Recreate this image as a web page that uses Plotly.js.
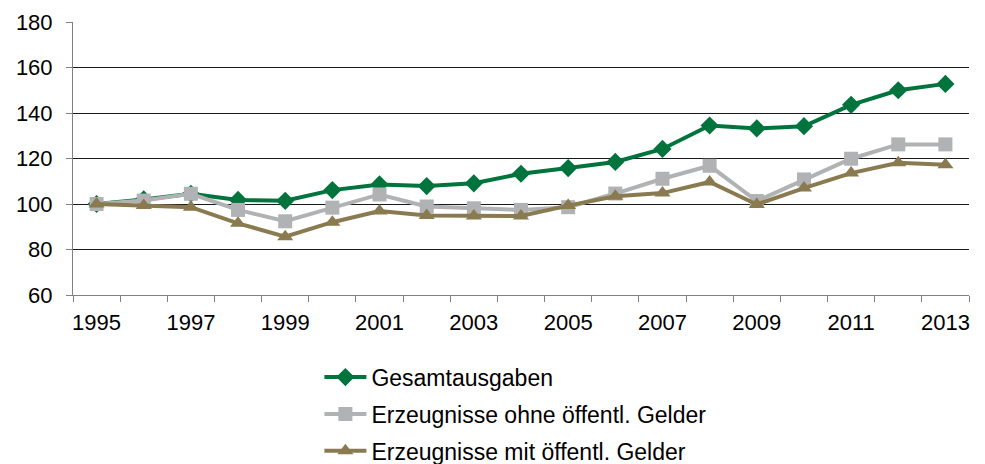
<!DOCTYPE html>
<html>
<head>
<meta charset="utf-8">
<script src="https://cdn.plot.ly/plotly-3.0.1.min.js"></script>
<style>html,body{margin:0;padding:0;background:#fff;}#chart{width:985px;height:464px;}</style>
</head>
<body>
<div id="chart"></div>
<script>
const years = [1995,1996,1997,1998,1999,2000,2001,2002,2003,2004,2005,2006,2007,2008,2009,2010,2011,2012,2013];
const tickYears = [1995,1997,1999,2001,2003,2005,2007,2009,2011,2013];
const seriesNames = ["Gesamtausgaben","Erzeugnisse ohne öffentl. Gelder","Erzeugnisse mit öffentl. Gelder"];
const gesamt = [100,102,104.5,101.8,101.4,106.1,108.6,107.9,109.1,113.3,115.8,118.5,124.2,134.5,133.2,134.2,143.6,150,152.8];
const ohne = [100,101.5,104.5,97.4,92.4,98.4,104.2,98.9,98.1,97.4,98.6,104.6,111.1,116.8,101.3,110.8,119.9,126.2,126.2];
const mit = [100,99.3,98.6,91.5,85.6,92,96.9,95,94.7,94.7,99.3,103.4,104.8,109.7,99.8,107,113.6,118.1,117.3];

const font = "Liberation Sans, Arial, sans-serif";
const traces = [
  {x: years, y: gesamt, name: seriesNames[0], mode: "lines+markers", legendgroup: "a",
   line: {color: "#00743C", width: 4}, marker: {symbol: "diamond", size: 14, color: "#00743C"}},
  {x: years, y: ohne, name: seriesNames[1], mode: "lines+markers", legendgroup: "b",
   line: {color: "#B1B2B4", width: 4}, marker: {symbol: "square", size: 14, color: "#B1B2B4"}},
  {x: years, y: mit, name: seriesNames[2], mode: "lines+markers", legendgroup: "c",
   line: {color: "#8A7A50", width: 4}, marker: {symbol: "triangle-up", size: 14, color: "#8A7A50"}}
];
const boundaries = years.map(y => y - 0.5).concat([years[years.length-1] + 0.5]);
const layout = {
  width: 985, height: 464,
  margin: {l: 73, r: 16, t: 22, b: 169, autoexpand: false},
  paper_bgcolor: "#fff", plot_bgcolor: "#fff",
  font: {family: font, size: 22, color: "#000"},
  showlegend: true,
  legend: {x: 0.275, xanchor: "left", y: -0.222, yanchor: "top", orientation: "v",
           font: {family: font, size: 23, color: "#000"}, bgcolor: "rgba(0,0,0,0)",
           tracegroupgap: 4, itemwidth: 42},
  xaxis: {
    range: [1994.5, 2013.5], tickmode: "array", tickvals: tickYears, ticktext: tickYears.map(String),
    ticks: "", showgrid: false, zeroline: false, showline: true, linecolor: "#808080", linewidth: 1,
    ticklabelstandoff: 8,
    tickfont: {family: font, size: 22, color: "#000"},
    minor: {tickmode: "array", tickvals: boundaries, ticks: "outside", ticklen: 6, tickcolor: "#808080", tickwidth: 1, showgrid: false}
  },
  yaxis: {
    range: [60, 180], tickmode: "linear", tick0: 60, dtick: 20,
    ticks: "outside", ticklen: 6, tickcolor: "#808080", tickwidth: 1,
    showgrid: true, gridcolor: "#1a1a1a", gridwidth: 1, zeroline: false,
    showline: true, linecolor: "#808080", linewidth: 1,
    ticklabelstandoff: 9,
    tickfont: {family: font, size: 22, color: "#000"}
  }
};
Plotly.newPlot("chart", traces, layout, {displayModeBar: false, staticPlot: true});
</script>
</body>
</html>
